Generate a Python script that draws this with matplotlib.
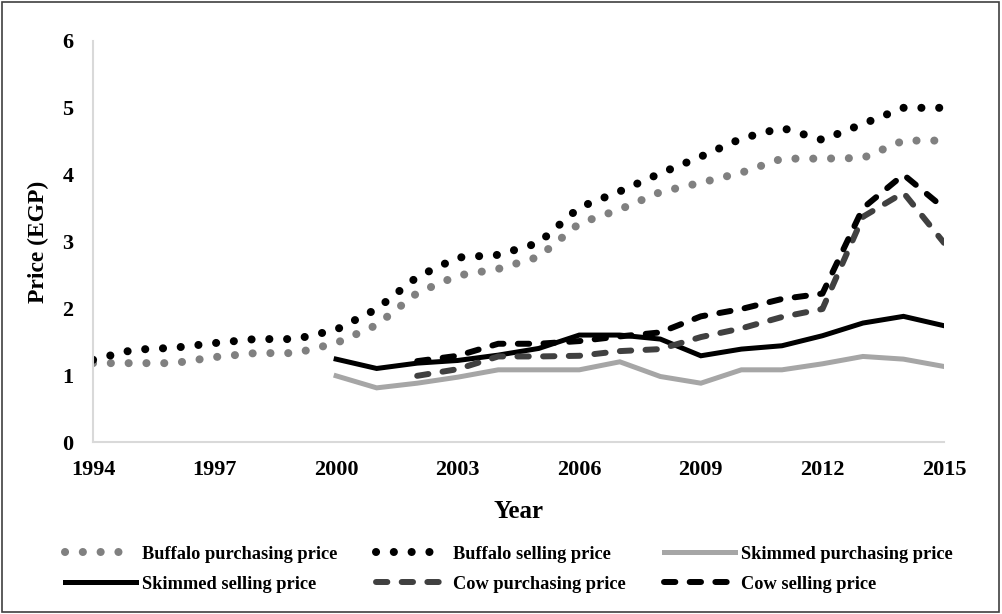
# milk price trends 1994-2015, recreated from figure

import matplotlib.pyplot as plt
import numpy as np
from matplotlib.patches import Rectangle

plt.rcParams['font.family'] = ['Liberation Serif', 'DejaVu Serif']
plt.rcParams['font.weight'] = 'bold'

years_all = list(range(1994, 2016))
years_skim = list(range(2000, 2016))
years_cow = list(range(2002, 2016))

buffalo_buy = [1.18, 1.18, 1.18, 1.27, 1.33, 1.33, 1.48, 1.75, 2.23, 2.49, 2.59,
               2.77, 3.27, 3.48, 3.74, 3.88, 4.03, 4.24, 4.24, 4.25, 4.51, 4.51]
buffalo_sell = [1.23, 1.38, 1.41, 1.48, 1.54, 1.54, 1.68, 1.99, 2.47, 2.76, 2.8,
                2.98, 3.51, 3.75, 4.02, 4.27, 4.54, 4.7, 4.52, 4.76, 5.0, 5.0]
skim_buy = [0.99, 0.81, 0.88, 0.97, 1.08, 1.08, 1.08, 1.2, 0.98, 0.88,
            1.08, 1.08, 1.17, 1.28, 1.24, 1.13]
skim_sell = [1.24, 1.1, 1.18, 1.22, 1.3, 1.4, 1.6, 1.6, 1.54, 1.29,
             1.39, 1.44, 1.59, 1.78, 1.88, 1.74]
cow_buy = [0.99, 1.09, 1.28, 1.28, 1.29, 1.36, 1.39, 1.57, 1.7, 1.87,
           1.99, 3.37, 3.73, 2.98]
cow_sell = [1.21, 1.29, 1.47, 1.47, 1.51, 1.58, 1.64, 1.88, 1.99, 2.14,
            2.22, 3.5, 4.0, 3.5]

labels = ['Buffalo purchasing price', 'Buffalo selling price', 'Skimmed purchasing price',
          'Skimmed selling price', 'Cow purchasing price', 'Cow selling price']

fig = plt.figure(figsize=(10.02, 6.14), dpi=100)
ax = fig.add_axes([93/1002, 1 - 442/614, (944 - 93)/1002, (442 - 41)/614])

dot = (0, (0.01, 2.2))
dash = (0, (1.9, 2.4))
h = []
h += ax.plot(years_all, buffalo_buy, color='#808080', lw=5.8, ls=dot, dash_capstyle='round')
h += ax.plot(years_all, buffalo_sell, color='black', lw=5.8, ls=dot, dash_capstyle='round')
h += ax.plot(years_skim, skim_buy, color='#a6a6a6', lw=3.6, solid_joinstyle='miter')
h += ax.plot(years_skim, skim_sell, color='black', lw=3.6, solid_joinstyle='miter')
h += ax.plot(years_cow, cow_buy, color='#404040', lw=4.3, ls=dash, dash_capstyle='round')
h += ax.plot(years_cow, cow_sell, color='black', lw=4.3, ls=dash, dash_capstyle='round')

ax.set_xlim(1994, 2015)
ax.set_ylim(0, 6)
ax.set_xticks(range(1994, 2016, 3))
ax.set_yticks(range(0, 7))
ax.tick_params(length=0, labelsize=16)
ax.tick_params(axis='x', pad=13)
ax.tick_params(axis='y', pad=14)
for s in ['top', 'right']:
    ax.spines[s].set_visible(False)
for s in ['left', 'bottom']:
    ax.spines[s].set_color('#d9d9d9')
    ax.spines[s].set_linewidth(1.5)
ax.set_xlabel('Year', fontsize=18, fontweight='bold', labelpad=14)
ax.set_ylabel('Price (EGP)', fontsize=17, fontweight='bold', labelpad=10)

# legend is row-wise in the original, matplotlib fills columns first
order = [0, 3, 1, 4, 2, 5]
fig.legend([h[i] for i in order], [labels[i] for i in order], ncol=3,
           loc='center', bbox_to_anchor=(0.508, 0.073), frameon=False,
           prop={'size': 13.2, 'weight': 'bold'}, handlelength=3.85,
           handletextpad=0.35, columnspacing=2.1, labelspacing=0.72)

fig.patches.append(Rectangle((0.002, 0.003), 0.995, 0.993, transform=fig.transFigure,
                             fill=False, edgecolor='#404040', lw=1.2))

fig.savefig('out.png', dpi=100)
